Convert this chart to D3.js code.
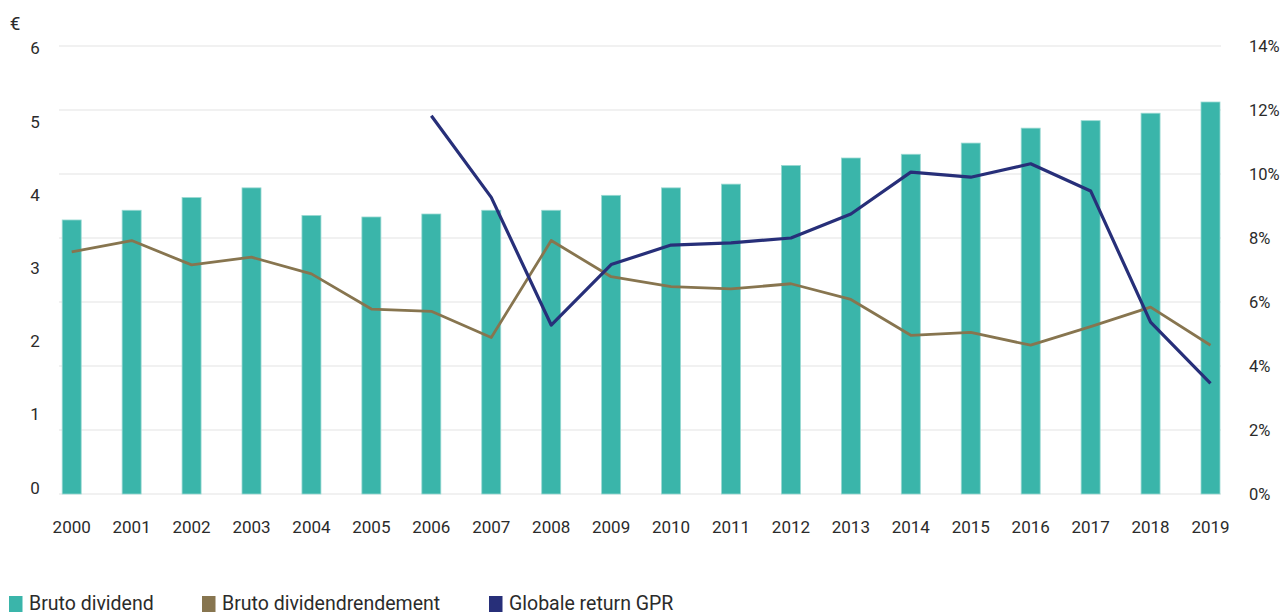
<!DOCTYPE html>
<html>
<head>
<meta charset="utf-8">
<script src="https://cdn.jsdelivr.net/npm/d3@7"></script>
<style>
  html, body { margin: 0; padding: 0; background: #fff; }
  svg { display: block; }
  text { font-family: Roboto, "Noto Sans", sans-serif; fill: #2b2b2b; }
</style>
</head>
<body>
<svg id="chart" width="1282" height="614"></svg>
<script>
const years = ["2000","2001","2002","2003","2004","2005","2006","2007","2008","2009",
               "2010","2011","2012","2013","2014","2015","2016","2017","2018","2019"];
const brutoDividend = [3.67, 3.80, 3.97, 4.10, 3.73, 3.71, 3.75, 3.80, 3.80, 4.00,
                       4.10, 4.15, 4.40, 4.50, 4.55, 4.70, 4.90, 5.00, 5.10, 5.25];
const dividendRendement = [7.57, 7.92, 7.16, 7.40, 6.88, 5.78, 5.71, 4.89, 7.92, 6.79,
                           6.48, 6.41, 6.57, 6.08, 4.96, 5.05, 4.65, 5.23, 5.84, 4.65];
const globaleReturn = [null, null, null, null, null, null, 11.82, 9.27, 5.28, 7.17,
                       7.78, 7.85, 8.00, 8.75, 10.06, 9.90, 10.32, 9.47, 5.37, 3.46];
const leftTicks = [0, 1, 2, 3, 4, 5, 6];
const rightTicks = [0, 2, 4, 6, 8, 10, 12, 14];
const legendLabels = ["Bruto dividend", "Bruto dividendrendement", "Globale return GPR"];
const colors = ["#3ab5aa", "#87754f", "#272f79"];

const svg = d3.select("#chart");

const x = d3.scalePoint().domain(years).range([71.7, 1210.5]);
const yLeft = d3.scaleLinear().domain([0, 6]).range([494, 46]);
const yLeftLabel = d3.scaleLinear().domain([0, 6]).range([487.5, 48.3]);
const yRight = d3.scaleLinear().domain([0, 14]).range([494, 46]);
const barW = 19;

// gridlines
svg.append("g").selectAll("line").data(rightTicks).join("line")
  .attr("x1", 59).attr("x2", 1221)
  .attr("y1", d => yRight(d)).attr("y2", d => yRight(d))
  .attr("stroke", "#ececec").attr("stroke-width", 1.5);

// bars
svg.append("g").selectAll("rect").data(brutoDividend).join("rect")
  .attr("x", (d, i) => x(years[i]) - barW / 2)
  .attr("width", barW)
  .attr("y", d => yLeft(d))
  .attr("height", d => yLeft(0) - yLeft(d))
  .attr("fill", colors[0])
  .attr("stroke", "#9ad9d2").attr("stroke-width", 0.8);

// lines
const line = d3.line()
  .defined(d => d.v !== null)
  .x(d => x(d.year))
  .y(d => yRight(d.v));

svg.append("path")
  .datum(years.map((y, i) => ({year: y, v: dividendRendement[i]})))
  .attr("d", line)
  .attr("fill", "none").attr("stroke", colors[1]).attr("stroke-width", 2.8)
  .attr("stroke-linejoin", "round");

svg.append("path")
  .datum(years.map((y, i) => ({year: y, v: globaleReturn[i]})))
  .attr("d", line)
  .attr("fill", "none").attr("stroke", colors[2]).attr("stroke-width", 3.2)
  .attr("stroke-linejoin", "round");

// left axis labels
svg.append("g").selectAll("text").data(leftTicks).join("text")
  .attr("x", 35).attr("y", d => yLeftLabel(d))
  .attr("text-anchor", "middle").attr("dominant-baseline", "central")
  .attr("font-size", 17).text(d => d);

svg.append("text").attr("x", 15).attr("y", 23)
  .attr("text-anchor", "middle").attr("dominant-baseline", "central")
  .attr("font-size", 19).text("€");

// right axis labels
svg.append("g").selectAll("text").data(rightTicks).join("text")
  .attr("x", 1249).attr("y", d => yRight(d))
  .attr("text-anchor", "start").attr("dominant-baseline", "central")
  .attr("font-size", 16.5).text(d => d + "%");

// x axis labels
svg.append("g").selectAll("text").data(years).join("text")
  .attr("x", d => x(d)).attr("y", 532.5)
  .attr("text-anchor", "middle")
  .attr("font-size", 17).text(d => d);

// legend
const legendX = [9, 202, 489];
const lg = svg.append("g").selectAll("g").data(legendLabels).join("g")
  .attr("transform", (d, i) => `translate(${legendX[i]},0)`);
lg.append("rect").attr("x", 0).attr("y", 596).attr("width", 13.5).attr("height", 16)
  .attr("fill", (d, i) => colors[i]);
lg.append("text").attr("x", 20).attr("y", 610)
  .attr("font-size", 19.5).text(d => d);
</script>
</body>
</html>
